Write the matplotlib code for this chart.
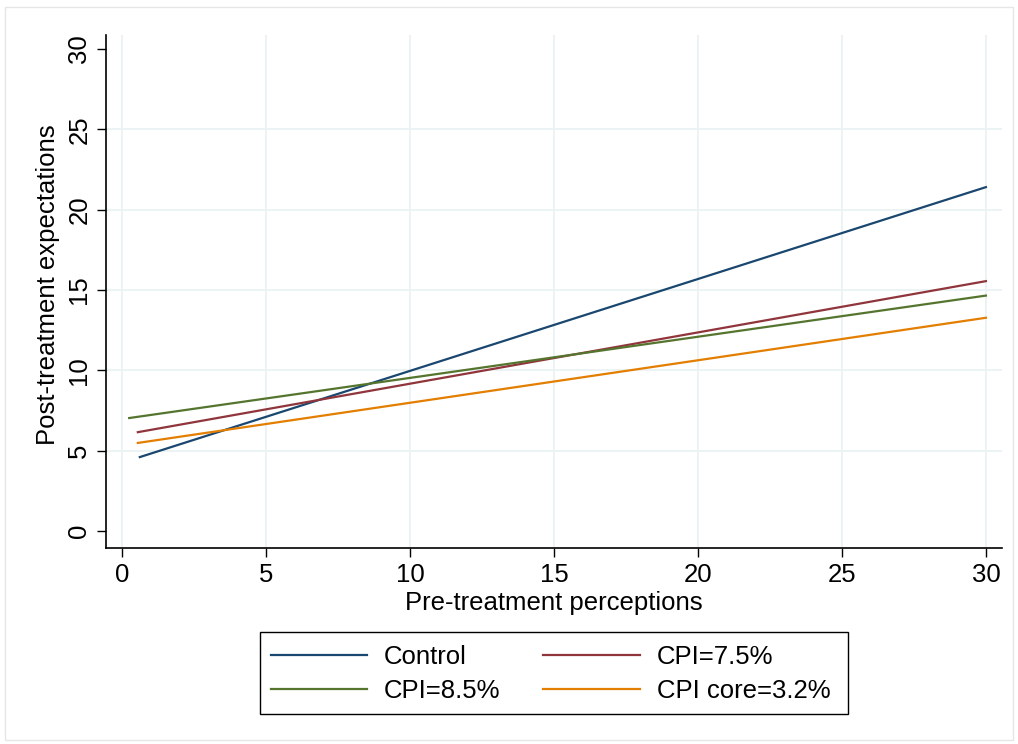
import matplotlib
matplotlib.use("Agg")
import matplotlib.pyplot as plt
from matplotlib.patches import Rectangle

plt.rcParams['font.family'] = ['Liberation Sans', 'DejaVu Sans']

# fitted lines (start and end points)
series = ["Control", "CPI=7.5%", "CPI=8.5%", "CPI core=3.2%"]
x_start = [0.62, 0.55, 0.25, 0.55]
x_end = [30, 30, 30, 30]
y_start = [4.6, 6.15, 7.03, 5.48]
y_end = [21.4, 15.55, 14.65, 13.27]
colors = ["#1a476f", "#90353b", "#55752f", "#e37e00"]

xticks = [0, 5, 10, 15, 20, 25, 30]
yticks = [0, 5, 10, 15, 20, 25, 30]

FS = 18.5
W, H = 1018, 744
fig = plt.figure(figsize=(W / 100, H / 100), dpi=100)
fig.patches.append(Rectangle((0.005, 0.005), 0.99, 0.985, transform=fig.transFigure,
                             fill=False, edgecolor="#e6e6e6", linewidth=1))
ax = fig.add_axes([0.1041, 0.2634, 0.8802, 0.6896])

grid_c = "#eaf2f3"
for xv in xticks:
    ax.axvline(xv, color=grid_c, linewidth=1.3, zorder=0)
for yv in yticks[1:-1]:
    ax.axhline(yv, color=grid_c, linewidth=1.3, zorder=0)

lines = []
for name, x0, x1, y0, y1, c in zip(series, x_start, x_end, y_start, y_end, colors):
    ln, = ax.plot([x0, x1], [y0, y1], color=c, linewidth=1.6, label=name, zorder=3)
    lines.append(ln)

ax.set_xlim(-0.556, 30.56)
ax.set_ylim(-1.06, 30.87)
ax.set_xticks(xticks)
ax.set_yticks(yticks)
ax.tick_params(axis='both', direction='out', length=6.5, width=1, labelsize=FS, colors='black')
ax.tick_params(axis='x', pad=4)
ax.tick_params(axis='y', pad=4)
for lab in ax.get_yticklabels():
    lab.set_rotation(90)
    lab.set_va('center')
for side in ['top', 'right']:
    ax.spines[side].set_visible(False)
for side in ['left', 'bottom']:
    ax.spines[side].set_linewidth(1.2)
    ax.spines[side].set_color('black')

ax.set_xlabel("Pre-treatment perceptions", fontsize=FS, va='center')
ax.set_ylabel("Post-treatment expectations", fontsize=FS, va='center')
ax.xaxis.set_label_coords(0.5, (548 - 603) / 513)
ax.yaxis.set_label_coords((48 - 106) / 896, 0.5136)

# legend: Control, CPI=7.5% on first row; CPI=8.5%, CPI core on second
order = [0, 2, 1, 3]
leg = fig.legend([lines[i] for i in order], [series[i] for i in order],
                 ncol=2, loc='upper left', bbox_to_anchor=(271 / W, 1 - 645 / H),
                 borderaxespad=0, borderpad=0, fontsize=FS, frameon=False,
                 handlelength=3.74, handletextpad=0.66, columnspacing=1.67,
                 labelspacing=0.39)
for h in leg.get_lines():
    h.set_linewidth(1.6)
fig.patches.append(Rectangle((260 / W, 1 - 714 / H), 588 / W, 82 / H,
                             transform=fig.transFigure, fill=False,
                             edgecolor='black', linewidth=1.0))

fig.savefig("out.png", dpi=100)
